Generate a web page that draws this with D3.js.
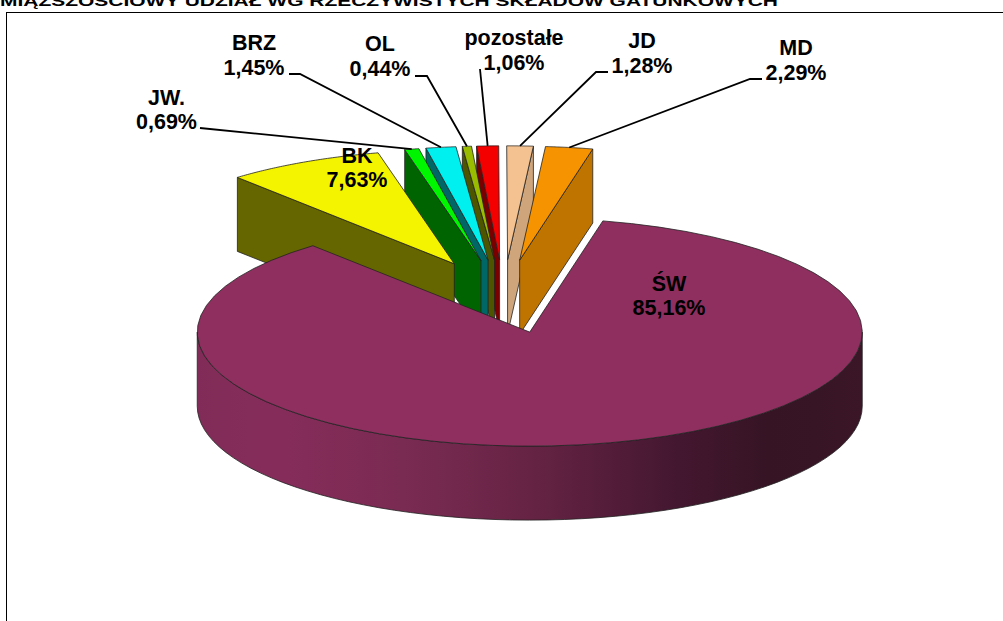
<!DOCTYPE html>
<html><head><meta charset="utf-8">
<script src="https://cdn.jsdelivr.net/npm/d3@7/dist/d3.min.js"></script>
<style>html,body{margin:0;padding:0;background:#fff;overflow:hidden}svg{display:block}</style>
</head><body><svg id="c" width="1003" height="621"></svg>
<script>
const titleText = "MIĄŻSZOŚCIOWY UDZIAŁ WG RZECZYWISTYCH SKŁADÓW GATUNKOWYCH";
const categories = ["ŚW","BK","JW.","BRZ","OL","pozostałe","JD","MD"];
const shares = [85.16,7.63,0.69,1.45,0.44,1.06,1.28,2.29];
const valueLabels = ["85,16%","7,63%","0,69%","1,45%","0,44%","1,06%","1,28%","2,29%"];
const topColors = ["#8F2F5F","#F4F300","#00F500","#00F0F0","#99BB00","#F40000","#F4C190","#F59300"];
const sideColors = ["#8F2F5F","#666600","#006400","#006666","#4D5500","#7A0000","#CFA67C","#C07400"];
// label layout: centre x, first and second baselines, leader start and elbow (null = none)
const labelX = [669,357,166.5,254,380,514,642,796];
const labelY1 = [291,163,105,50,51,45,48,55];
const labelY2 = [315,187,129,75,76,70,73,80];
const leaderStart = [null,null,[200,128],[289,74],[415,76],[480,69],[608,72],[762,79]];
const leaderElbow = [null,null,null,[300,74],[427,76],null,[596,72],[750,79]];
const paintOrder = [5,4,3,2,1,6,7,0];

const cx = 503.5, cy = 296.5, rx = 332.5, ry = 114, depth = 74, explodeX = 0.326, explodeY = 0.322;
const startDeg = 12.7;
const sx = d3.scaleLinear().domain([-1,1]).range([-rx,rx]);
const sy = d3.scaleLinear().domain([-1,1]).range([-ry,ry]);
const svg = d3.select("#c");
const defs = svg.append("defs");
const grad = defs.append("linearGradient").attr("id","side").attr("gradientUnits","userSpaceOnUse")
  .attr("x1",197).attr("x2",862).attr("y1",0).attr("y2",0);
[[0,"#812c58"],[0.12,"#862c5b"],[0.31,"#7a2b52"],[0.51,"#652343"],[0.72,"#441730"],[0.86,"#361424"],[1,"#3a1626"]]
  .forEach(s=>grad.append("stop").attr("offset",s[0]).attr("stop-color",s[1]));

// frame and clipped title
svg.append("rect").attr("x",6.5).attr("y",12.5).attr("width",1100).attr("height",800)
  .attr("fill","#fff").attr("stroke","#000").attr("stroke-width",1);
svg.append("text").text(titleText).attr("x",778).attr("y",5.5).attr("text-anchor","end")
  .attr("font-family","'Liberation Sans',Arial,sans-serif").attr("font-weight","bold")
  .attr("font-size",15.5).attr("textLength",778).attr("lengthAdjust","spacingAndGlyphs").attr("fill","#000");

const rad = Math.PI/180;
const pie = d3.pie().sort(null).startAngle(startDeg*rad).endAngle((startDeg+360)*rad);
const arcs = pie(shares);
const line = d3.line();
const poly = pts => line(pts)+"Z";
const centreOf = a => {
  const m = (a.startAngle+a.endAngle)/2;
  return [cx+explodeX*sx(Math.sin(m)), cy+explodeY*sy(-Math.cos(m))];
};
const rim = (c,a) => [c[0]+sx(Math.sin(a)), c[1]+sy(-Math.cos(a))];
const rimPoints = (c,a0,a1) => d3.range(0,61).map(i=>rim(c,a0+(a1-a0)*i/60));
const stroke = "#222", sw = 0.8;
const down = p => [p[0],p[1]+depth];

paintOrder.forEach(i=>{
  const a = arcs[i], c = centreOf(a);
  const g = svg.append("g").attr("class","slice").datum(categories[i]);
  if(i===0){
    const lo = Math.PI/2, hi = 3*Math.PI/2;
    const front = rimPoints(c,lo,hi);
    g.append("path").attr("d",poly(front.concat(front.map(down).reverse())))
      .attr("fill","url(#side)").attr("stroke",stroke).attr("stroke-width",sw);
  } else {
    const m = (a.startAngle+a.endAngle)/2;
    const edge = Math.sin(m)<0 ? a.startAngle : a.endAngle;
    const o = rim(c,edge);
    g.append("path").attr("d",poly([c,o,down(o),down(c)]))
      .attr("fill",sideColors[i]).attr("stroke",stroke).attr("stroke-width",sw);
  }
  g.append("path").attr("d",poly([c].concat(rimPoints(c,a.startAngle,a.endAngle))))
    .attr("fill",topColors[i]).attr("stroke",stroke).attr("stroke-width",sw);
});

// leaders
categories.forEach((n,i)=>{
  if(!leaderStart[i]) return;
  const a = arcs[i], c = centreOf(a);
  const end = rim(c,(a.startAngle+a.endAngle)/2);
  const pts = [leaderStart[i]].concat(leaderElbow[i]?[leaderElbow[i]]:[]).concat([end]);
  svg.append("path").attr("d",line(pts)).attr("fill","none").attr("stroke","#000").attr("stroke-width",1.8);
});
// labels
categories.forEach((n,i)=>{
  const t = svg.append("text").attr("text-anchor","middle")
    .attr("font-family","'Liberation Sans',Arial,sans-serif").attr("font-weight","bold")
    .attr("font-size",21.5).attr("fill","#000");
  t.append("tspan").attr("x",labelX[i]).attr("y",labelY1[i]).text(n);
  t.append("tspan").attr("x",labelX[i]).attr("y",labelY2[i]).text(valueLabels[i]);
});
</script></body></html>
